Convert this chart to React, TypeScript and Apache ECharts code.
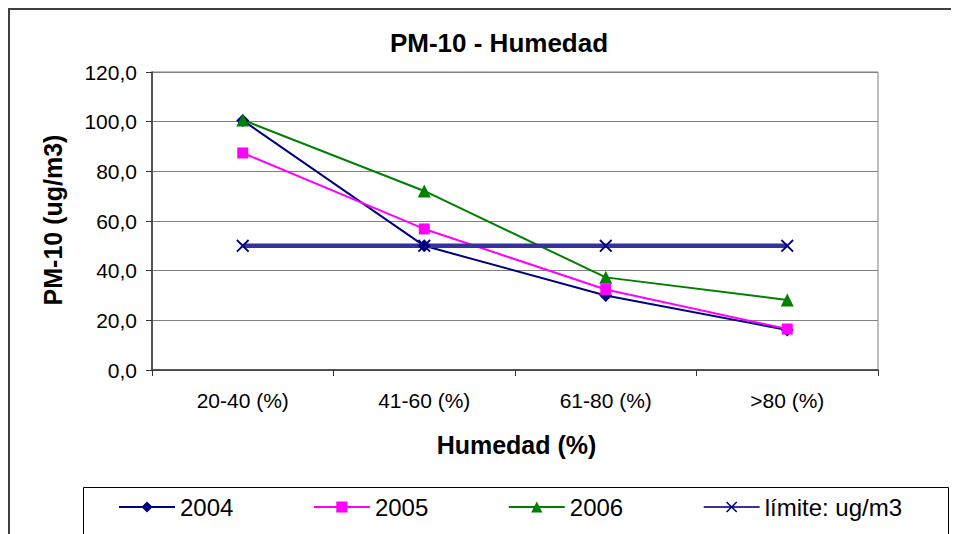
import React, { useEffect, useRef } from "react";
import * as echarts from "echarts";

const categories = ["20-40 (%)", "41-60 (%)", "61-80 (%)", ">80 (%)"];
const s2004 = [100.5, 50.0, 30.0, 16.1];
const s2005 = [87.4, 56.8, 32.4, 16.5];
const s2006 = [100.7, 72.1, 37.3, 28.2];
const limite = [50, 50, 50, 50];
const yTicks = { min: 0, max: 120, interval: 20 };

const FONT = '"Liberation Sans", Arial, sans-serif';
const X_PATH =
  "path://M0,1L1,0L5,4L9,0L10,1L6,5L10,9L9,10L5,6L1,10L0,9L4,5Z";

export default function App() {
  const ref = useRef<HTMLDivElement>(null);
  useEffect(() => {
    if (!ref.current) return;
    const chart = echarts.init(ref.current, undefined, { renderer: "svg" });
    chart.setOption({
      animation: false,
      backgroundColor: "#ffffff",
      textStyle: { fontFamily: FONT },
      title: {
        text: "PM-10 - Humedad",
        left: 486,
        textAlign: "center",
        top: 17,
        textStyle: { fontFamily: FONT, fontSize: 26, fontWeight: "bold", color: "#000" },
      },
      grid: {
        left: 144,
        top: 64,
        width: 726,
        height: 298,
        show: true,
        borderColor: "#808080",
        borderWidth: 1,
        backgroundColor: "transparent",
      },
      xAxis: {
        type: "category",
        data: categories,
        boundaryGap: true,
        axisLine: { lineStyle: { color: "#333", width: 1.5 } },
        axisTick: { show: true, length: 6, lineStyle: { color: "#333" } },
        axisLabel: { color: "#000", fontSize: 21, fontFamily: FONT, margin: 20 },
        splitLine: { show: false },
      },
      yAxis: {
        type: "value",
        min: yTicks.min,
        max: yTicks.max,
        interval: yTicks.interval,
        axisLine: { show: true, lineStyle: { color: "#333", width: 1.5 } },
        axisTick: { show: true, length: 6, lineStyle: { color: "#333" } },
        axisLabel: {
          color: "#000",
          fontSize: 21,
          fontFamily: FONT,
          margin: 15,
          formatter: (v: number) => v.toFixed(1).replace(".", ","),
        },
        splitLine: { show: true, lineStyle: { color: "#808080", width: 1 } },
      },
      legend: {
        left: 105,
        top: 482,
        itemWidth: 56,
        itemHeight: 14,
        itemGap: 79.5,
        textStyle: { fontFamily: FONT, fontSize: 24, color: "#000" },
        data: ["2004", "2005", "2006", "límite: ug/m3"],
      },
      graphic: [
        {
          type: "rect",
          shape: { x: 1, y: 1, width: 1200, height: 1200 },
          style: { fill: "none", stroke: "#404040", lineWidth: 2 },
          z: 100,
          silent: true,
        },
        {
          type: "rect",
          shape: { x: 75.5, y: 479.5, width: 865, height: 200 },
          style: { fill: "none", stroke: "#000", lineWidth: 1 },
          z: 100,
          silent: true,
        },
        {
          type: "text",
          x: 45,
          y: 212,
          rotation: Math.PI / 2,
          style: {
            text: "PM-10 (ug/m3)",
            fontFamily: FONT,
            fontSize: 25,
            fontWeight: "bold",
            fill: "#000",
            align: "center",
            verticalAlign: "middle",
          },
        },
        {
          type: "text",
          x: 508.5,
          y: 437,
          style: {
            text: "Humedad (%)",
            fontFamily: FONT,
            fontSize: 25,
            fontWeight: "bold",
            fill: "#000",
            align: "center",
            verticalAlign: "middle",
          },
        },
      ],
      series: [
        {
          name: "2004",
          type: "line",
          data: s2004,
          symbol: "diamond",
          symbolSize: 13,
          itemStyle: { color: "#000080" },
          lineStyle: { color: "#000080", width: 2 },
        },
        {
          name: "2005",
          type: "line",
          data: s2005,
          symbol: "rect",
          symbolSize: 11,
          itemStyle: { color: "#FF00FF" },
          lineStyle: { color: "#FF00FF", width: 2 },
        },
        {
          name: "2006",
          type: "line",
          data: s2006,
          symbol: "triangle",
          symbolSize: 13,
          itemStyle: { color: "#008000" },
          lineStyle: { color: "#008000", width: 2 },
        },
        {
          name: "límite: ug/m3",
          type: "line",
          data: limite,
          symbol: X_PATH,
          symbolSize: 13,
          itemStyle: { color: "#000080" },
          lineStyle: { color: "#333399", width: 4.5 },
        },
      ],
    });
    return () => chart.dispose();
  }, []);
  return <div ref={ref} style={{ width: 951, height: 526 }} />;
}
